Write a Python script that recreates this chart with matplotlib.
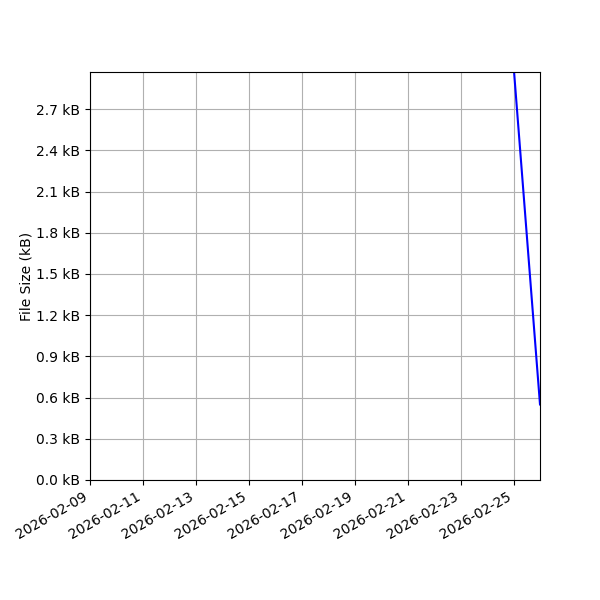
import datetime as dt
import matplotlib
matplotlib.use("Agg")
import matplotlib.pyplot as plt
import matplotlib.dates as mdates
from matplotlib.ticker import FuncFormatter

# visible data points (kB); earlier part of the series lies above the y-limit
dates = [dt.datetime(2026, 2, 25), dt.datetime(2026, 2, 26)]
sizes_kb = [3.02, 0.55]

x_start = dt.datetime(2026, 2, 9)
x_end = dt.datetime(2026, 2, 26)
tick_dates = [x_start + dt.timedelta(days=2 * i) for i in range(9)]
y_ticks = [0.0, 0.3, 0.6, 0.9, 1.2, 1.5, 1.8, 2.1, 2.4, 2.7]

fig, ax = plt.subplots(figsize=(6, 6), dpi=100)
ax.plot(dates, sizes_kb, color="blue")

ax.set_xlim(x_start, x_end)
ax.set_ylim(0, 2.97)
ax.set_xticks(tick_dates)
ax.xaxis.set_major_formatter(mdates.DateFormatter("%Y-%m-%d"))
ax.set_yticks(y_ticks)
ax.yaxis.set_major_formatter(FuncFormatter(lambda v, p: f"{v:.1f} kB"))
ax.set_ylabel("File Size (kB)", labelpad=2)
ax.grid(True)

fig.autofmt_xdate()
plt.subplots_adjust(left=0.15, right=0.9, top=0.88, bottom=0.2)
plt.savefig("out.png")
